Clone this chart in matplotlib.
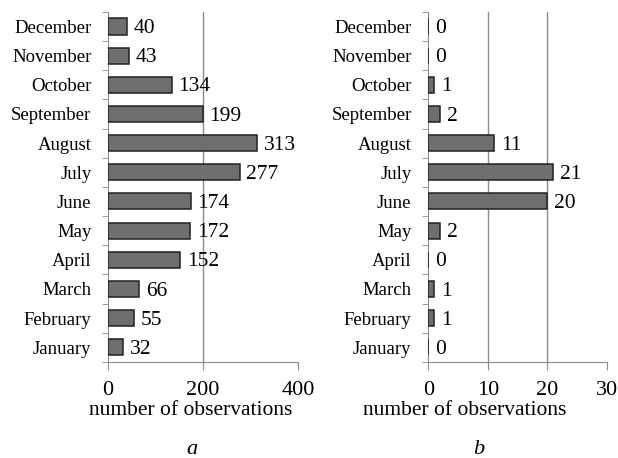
import numpy as np
import matplotlib
matplotlib.use("Agg")
import matplotlib.pyplot as plt

plt.rcParams["font.family"] = ["Liberation Serif", "DejaVu Serif"]

# --- données ---
months = ["January", "February", "March", "April", "May", "June",
          "July", "August", "September", "October", "November", "December"]
obs_a = [32, 55, 66, 152, 172, 174, 277, 313, 199, 134, 43, 40]
obs_b = [0, 1, 1, 0, 2, 20, 21, 11, 2, 1, 0, 0]
xticks_a = [0, 200, 400]
xticks_b = [0, 10, 20, 30]

fig = plt.figure(figsize=(6.18, 4.58), dpi=100)
ax_a = fig.add_axes([0.175, 0.21, 0.307, 0.764])
ax_b = fig.add_axes([0.693, 0.21, 0.289, 0.764])

grey = "#8c8c8c"
panels = [(ax_a, obs_a, xticks_a, "a", 192, 0.437), (ax_b, obs_b, xticks_b, "b", 479, 0.202)]
for ax, vals, ticks, letter, lx, labx in panels:
    y = np.arange(len(months))
    ax.barh(y, vals, height=0.55, color="#6e6e6e", edgecolor="#222222", linewidth=1.1, zorder=3)
    for yi, v in zip(y, vals):
        ax.annotate(str(v), (v, yi), xytext=(5, -1.5), textcoords="offset points",
                    va="center", ha="left", fontsize=15.5, zorder=4)
    ax.set_ylim(-0.5, len(months) - 0.5)
    ax.set_xlim(0, ticks[-1])
    ax.set_yticks(y)
    ax.set_yticklabels(months, fontsize=13.5)
    ax.set_yticks(np.arange(-0.5, len(months)), minor=True)
    ax.tick_params(axis="y", which="major", length=0, pad=12)
    ax.tick_params(axis="y", which="minor", length=4, direction="out", color=grey)
    ax.set_xticks(ticks)
    ax.tick_params(axis="x", length=6, direction="out", color=grey, labelsize=16, pad=8)
    for t in ticks[1:-1]:
        ax.axvline(t, color=grey, linewidth=1.0, zorder=1)
    for s in ["top", "right"]:
        ax.spines[s].set_visible(False)
    for s in ["left", "bottom"]:
        ax.spines[s].set_color(grey)
    ax.set_xlabel("number of observations", fontsize=15.5)
    ax.xaxis.set_label_coords(labx, -0.112)
    fig.text(lx / 618, 1 - 449 / 458, letter, ha="center", va="center",
             fontsize=16, style="italic")

fig.savefig("out.png", dpi=100)
